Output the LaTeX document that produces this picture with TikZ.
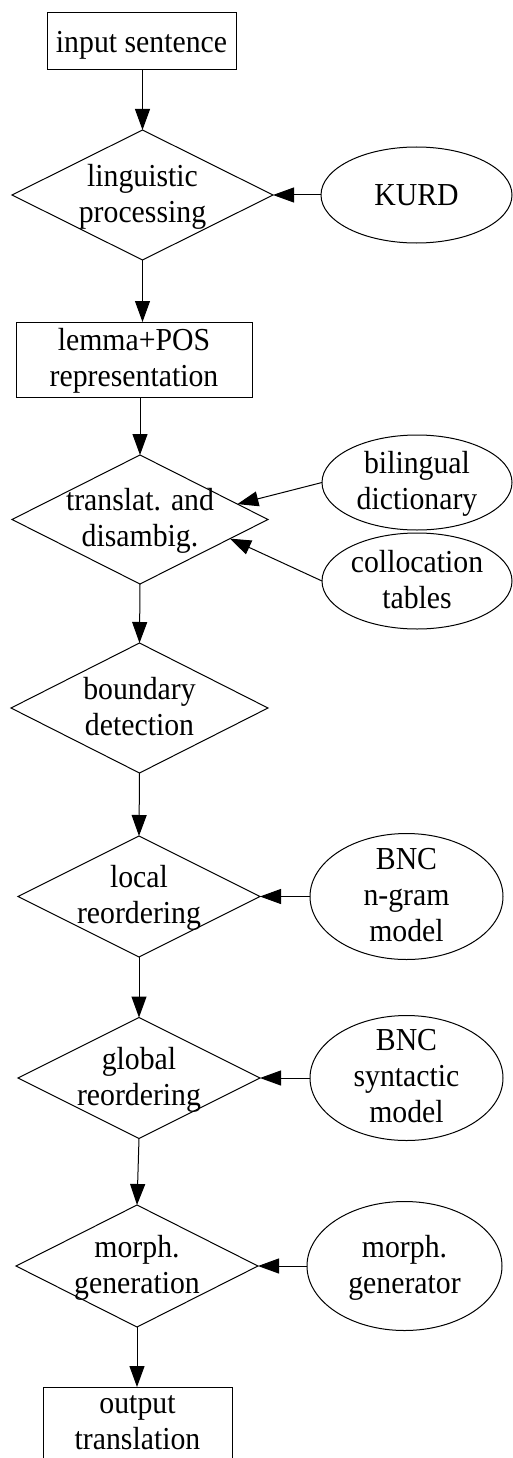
\documentclass[tikz,border=0pt]{standalone}
\usepackage{fontspec}
\setmainfont{Liberation Serif}[FakeStretch=0.93]
\usetikzlibrary{shapes.geometric,arrows.meta}
\begin{document}
\begin{tikzpicture}[x=1pt,y=-1pt,
  every node/.style={inner sep=0pt, outer sep=0pt},
  shp/.style={draw, line width=1pt},
  boxn/.style={shp, rectangle},
  decis/.style={shp, diamond},
  store/.style={shp, ellipse},
  lbl/.style={align=center, font=\fontsize{32}{36}\selectfont, yshift=-3.5pt,
    execute at begin node=\strut, execute at end node=\strut},
  flow/.style={line width=1pt, line join=miter, -{Triangle[length=21pt,width=15pt]}}
]
\useasboundingbox (0,0) rectangle (513,1458);
\clip (0,0) rectangle (513,1458);

% main column
\node[boxn, minimum width=189pt, minimum height=57pt] (in) at (141.5,41.5) {};
\node[decis, minimum width=261pt, minimum height=130pt] (ling) at (142.5,195) {};
\node[boxn, minimum width=236pt, minimum height=75pt] (lem) at (134,359.5) {};
\node[decis, minimum width=256pt, minimum height=129pt] (trans) at (140,519.5) {};
\node[decis, minimum width=257pt, minimum height=130pt] (bound) at (139.5,708) {};
\node[decis, minimum width=242pt, minimum height=121pt] (loc) at (139,896.5) {};
\node[decis, minimum width=242pt, minimum height=121pt] (glob) at (139,1078) {};
\node[decis, minimum width=242pt, minimum height=122pt] (morph) at (137,1266) {};
\node[boxn, minimum width=189pt, minimum height=75pt] (out) at (137.5,1424.5) {};

% resources
\node[store, minimum width=191pt, minimum height=96pt] (kurd) at (416.5,195) {};
\node[store, minimum width=190pt, minimum height=95pt] (bil) at (417,482.5) {};
\node[store, minimum width=190pt, minimum height=96pt] (coll) at (417,581) {};
\node[store, minimum width=193pt, minimum height=126pt] (ngram) at (406.5,896.5) {};
\node[store, minimum width=193pt, minimum height=125pt] (synt) at (406.5,1078) {};
\node[store, minimum width=195pt, minimum height=129pt] (gen) at (404.5,1266) {};

% labels
\node[lbl] (in-t) at (in) {input sentence};
\node[lbl] (ling-t) at (ling) {linguistic\\processing};
\node[lbl] (lem-t) at (lem) {lemma+POS\\representation};
\node[lbl] (trans-t) at (trans) {translat. and\\disambig.};
\node[lbl] (bound-t) at (bound) {boundary\\detection};
\node[lbl] (loc-t) at (loc) {local\\reordering};
\node[lbl] (glob-t) at (glob) {global\\reordering};
\node[lbl] (morph-t) at (morph) {morph.\\generation};
\node[lbl] (out-t) at (out) {output\\translation};
\node[lbl] (kurd-t) at (kurd) {KURD};
\node[lbl] (bil-t) at (bil) {bilingual\\dictionary};
\node[lbl] (coll-t) at (coll) {collocation\\tables};
\node[lbl] (ngram-t) at (ngram) {BNC\\n-gram\\model};
\node[lbl] (synt-t) at (synt) {BNC\\syntactic\\model};
\node[lbl] (gen-t) at (gen) {morph.\\generator};

% pipeline arrows
\draw[flow] (ling.north |- in.south) -- (ling.north);
\draw[flow] (ling.south) -- (ling.south |- lem.north);
\draw[flow] (trans.north |- lem.south) -- (trans.north);
\draw[flow] (trans.south) -- (bound.north);
\draw[flow] (bound.south) -- (loc.north);
\draw[flow] (loc.south) -- (glob.north);
\draw[flow] (glob.south) -- (morph.north);
\draw[flow] (morph.south) -- (morph.south |- out.north);

% resource arrows
\draw[flow] (kurd.west) -- (ling.east);
\draw[flow] (bil.west) -- (trans.9);
\draw[flow] (coll.west) -- (trans.-12);
\draw[flow] (ngram.west) -- (loc.east);
\draw[flow] (synt.west) -- (glob.east);
\draw[flow] (gen.west) -- (morph.east);
\end{tikzpicture}
\end{document}
